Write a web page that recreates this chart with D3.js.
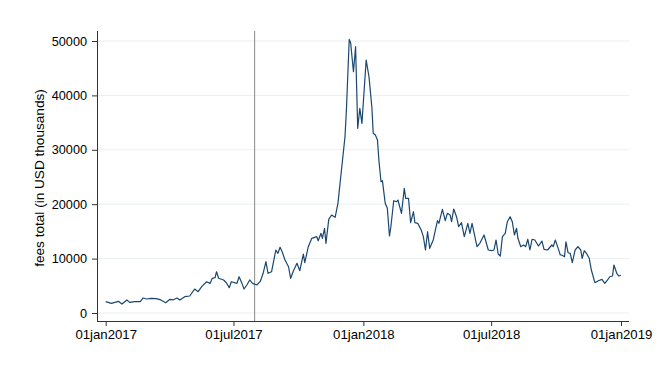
<!DOCTYPE html>
<html>
<head>
<meta charset="utf-8">
<script src="https://cdn.jsdelivr.net/npm/d3@7"></script>
<style>
  body { margin: 0; background: #fff; }
  text { font-family: "Liberation Sans", Arial, Helvetica, sans-serif; }
</style>
</head>
<body>
<div id="chart"></div>
<script>
// daily fee totals (USD thousands)
var dates = [
  "2017-01-01","2017-01-09","2017-01-14","2017-01-19","2017-01-24","2017-01-31","2017-02-04","2017-02-11",
  "2017-02-19","2017-02-23","2017-02-28","2017-03-06","2017-03-14","2017-03-20","2017-03-27","2017-04-02",
  "2017-04-06","2017-04-12","2017-04-16","2017-04-23","2017-04-30","2017-05-07","2017-05-12","2017-05-17",
  "2017-05-24","2017-05-29","2017-06-01","2017-06-05","2017-06-07","2017-06-10","2017-06-17","2017-06-21",
  "2017-06-25","2017-06-28","2017-07-06","2017-07-09","2017-07-13","2017-07-16","2017-07-20","2017-07-24",
  "2017-07-28","2017-08-03","2017-08-08","2017-08-12","2017-08-16","2017-08-19","2017-08-24","2017-08-30",
  "2017-09-02","2017-09-05","2017-09-08","2017-09-12","2017-09-17","2017-09-20","2017-09-24","2017-09-29",
  "2017-10-03","2017-10-08","2017-10-10","2017-10-15","2017-10-20","2017-10-27","2017-10-29","2017-11-02",
  "2017-11-04","2017-11-07","2017-11-09","2017-11-13","2017-11-17","2017-11-22","2017-11-26","2017-12-01",
  "2017-12-06","2017-12-08","2017-12-12","2017-12-14","2017-12-18","2017-12-21","2017-12-24","2017-12-27",
  "2017-12-30","2018-01-05","2018-01-09","2018-01-13","2018-01-15","2018-01-18","2018-01-21","2018-01-23",
  "2018-01-26","2018-01-28","2018-02-01","2018-02-04","2018-02-07","2018-02-09","2018-02-13","2018-02-17",
  "2018-02-19","2018-02-24","2018-02-28","2018-03-02","2018-03-06","2018-03-09","2018-03-13","2018-03-15",
  "2018-03-19","2018-03-24","2018-03-27","2018-03-30","2018-04-02","2018-04-05","2018-04-10","2018-04-12",
  "2018-04-16","2018-04-18","2018-04-23","2018-04-27","2018-04-30","2018-05-04","2018-05-06","2018-05-09",
  "2018-05-13","2018-05-16","2018-05-20","2018-05-24","2018-05-29","2018-06-01","2018-06-04","2018-06-11",
  "2018-06-15","2018-06-21","2018-06-27","2018-07-02","2018-07-05","2018-07-08","2018-07-11","2018-07-14",
  "2018-07-17","2018-07-21","2018-07-24","2018-07-28","2018-07-31","2018-08-03","2018-08-06","2018-08-08",
  "2018-08-12","2018-08-16","2018-08-19","2018-08-22","2018-08-25","2018-08-28","2018-09-01","2018-09-06",
  "2018-09-11","2018-09-14","2018-09-19","2018-09-25","2018-09-27","2018-09-30","2018-10-04","2018-10-07",
  "2018-10-09","2018-10-13","2018-10-15","2018-10-18","2018-10-21","2018-10-24","2018-10-28","2018-11-01",
  "2018-11-05","2018-11-07","2018-11-10","2018-11-13","2018-11-17","2018-11-20","2018-11-25","2018-11-30",
  "2018-12-05","2018-12-09","2018-12-13","2018-12-16","2018-12-20","2018-12-22","2018-12-26","2018-12-29",
  "2019-01-01"
]
var fees = [
  2080,1780,1950,2150,1650,2390,1960,2100,
  2080,2760,2570,2700,2630,2400,1900,2510,
  2400,2760,2390,3000,3120,4400,3920,4840,
  5750,5450,6380,6490,7590,6380,6070,5570,
  4650,5750,5450,6670,5450,4410,5150,6070,
  5450,5150,5800,7300,9430,7300,7590,11580,
  10970,12080,11270,9740,8500,6380,7780,9130,
  7780,10840,9250,12190,13730,14030,13290,14650,
  13730,15570,12810,17220,18010,17590,20160,26280,
  32400,37310,50300,49690,44350,48950,33950,37630,
  34870,46500,43430,37920,33030,32720,31800,28120,
  24130,24320,20160,19240,14150,15860,20640,20460,
  20770,18320,22920,21080,21080,16600,18620,16600,
  16490,15260,14030,11580,14940,11890,13420,14650,
  16970,16490,19060,16970,18320,18010,16780,19120,
  17700,15860,16600,14030,16490,14650,16490,12190,
  12810,14340,11580,11450,11580,13420,10840,10480,
  14030,14650,16780,17700,16780,14340,15570,13730,
  12190,12500,12190,13550,11580,13550,13420,12310,
  13230,11700,11580,12500,12190,13420,11890,10660,
  10660,10350,13100,11080,10970,9250,11580,12190,
  11580,10050,11450,10970,10050,7900,5570,5940,
  6190,5450,6070,6670,6800,8820,7300,6800,
  6930
]
var yTicks = [0, 10000, 20000, 30000, 40000, 50000]
var xTicks = ["2017-01-01", "2017-07-01", "2018-01-01", "2018-07-01", "2019-01-01"]
var markerDate = "2017-07-31"

var width = 660, height = 377
var parse = d3.timeParse("%Y-%m-%d")
var fmt = d3.timeFormat("%d%b%Y")

var data = dates.map(function(d, i) { return { date: parse(d), value: fees[i] } })

var svg = d3.select("#chart").append("svg")
  .attr("width", width)
  .attr("height", height)

var x = d3.scaleTime()
  .domain([parse("2017-01-01"), parse("2019-01-01")])
  .range([105.7, 621])
var y = d3.scaleLinear()
  .domain([0, 50000])
  .range([313, 41])

var plotLeft = 97, plotRight = 629, plotBottom = 321, plotTop = 31

// gridlines
svg.append("g").selectAll("line")
  .data(yTicks)
  .enter().append("line")
  .attr("x1", plotLeft).attr("x2", plotRight)
  .attr("y1", d => y(d)).attr("y2", d => y(d))
  .attr("stroke", "#e8f0f1")
  .attr("stroke-width", 1)

// y axis
var yAxis = svg.append("g")
  .attr("transform", "translate(" + plotLeft + ",0)")
  .call(d3.axisLeft(y).tickValues(yTicks).tickSize(5).tickPadding(5).tickFormat(d3.format("d")))
yAxis.select(".domain").attr("d", "M0.5," + plotTop + "V" + plotBottom).attr("stroke", "#333")
yAxis.selectAll(".tick line").attr("stroke", "#333")
yAxis.selectAll("text").style("font-size", "12.7px").attr("fill", "#000")

// x axis
var xAxis = svg.append("g")
  .attr("transform", "translate(0," + plotBottom + ")")
  .call(d3.axisBottom(x).tickValues(xTicks.map(parse)).tickSize(5).tickPadding(4)
    .tickFormat(d => fmt(d).toLowerCase()))
xAxis.select(".domain").attr("d", "M" + plotLeft + ",0.5H" + plotRight).attr("stroke", "#333")
xAxis.selectAll(".tick line").attr("stroke", "#333")
xAxis.selectAll("text").style("font-size", "13.2px").attr("fill", "#000")

// vertical marker
svg.append("line")
  .attr("x1", x(parse(markerDate))).attr("x2", x(parse(markerDate)))
  .attr("y1", plotTop).attr("y2", plotBottom)
  .attr("stroke", "#8a8a8a")
  .attr("stroke-width", 1)

// series
var line = d3.line()
  .x(d => x(d.date))
  .y(d => y(d.value))
svg.append("path")
  .datum(data)
  .attr("d", line)
  .attr("fill", "none")
  .attr("stroke", "#1a476f")
  .attr("stroke-width", 1.2)
  .attr("stroke-linejoin", "round")

// y title
svg.append("text")
  .attr("transform", "translate(44," + ((plotTop + plotBottom) / 2 + 2) + ") rotate(-90)")
  .attr("text-anchor", "middle")
  .style("font-size", "13.6px")
  .text("fees total (in USD thousands)")
</script>
</body>
</html>
